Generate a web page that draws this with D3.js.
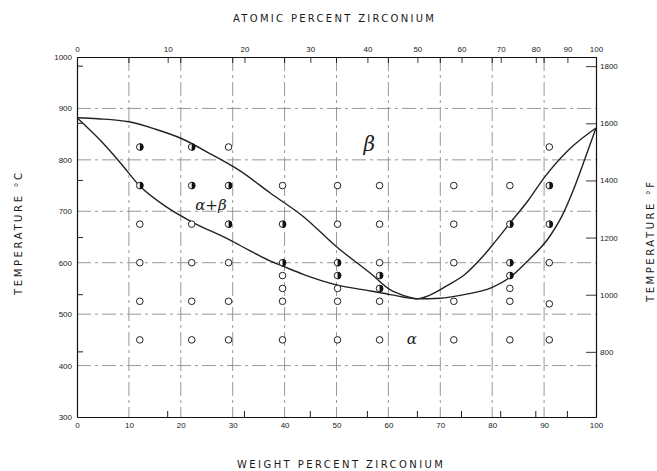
<!DOCTYPE html>
<html>
<head>
<meta charset="utf-8">
<script src="https://cdn.jsdelivr.net/npm/d3@7"></script>
<style>
  body { margin: 0; background: #fff; }
  svg { display: block; font-family: 'DejaVu Sans', sans-serif; }
  .axis text { font-size: 8px; fill: #1a1a1a; }
  .axis .domain { stroke: #111; stroke-width: 1.2; }
  .axis line { stroke: #222; stroke-width: 0.9; }
  .title { font-size: 10px; fill: #1a1a1a; }
  .grid { stroke: #8c8c8c; stroke-width: 0.9; stroke-dasharray: 14 4 3 4; fill: none; }
  .boundary { fill: none; stroke: #222; stroke-width: 1.4; }
  .phase { font-family: 'DejaVu Serif', serif; font-style: italic; fill: #222; }
</style>
</head>
<body>
<div id="chart"></div>
<script>
// Axis ticks
const weightTicks = [0, 10, 20, 30, 40, 50, 60, 70, 80, 90, 100];
const atomicTicks = [0, 10, 20, 30, 40, 50, 60, 70, 80, 90, 100];
const celsiusTicks = [300, 400, 500, 600, 700, 800, 900, 1000];
const fahrenheitTicks = [800, 1000, 1200, 1400, 1600, 1800];

// Phase boundaries, [weight % Zr, temperature C]
const betaTransus = [
  [0, 882], [4, 880], [10, 874], [15, 860], [20, 842], [26, 810], [31.5, 778],
  [37.3, 735], [43.7, 689], [50, 631], [56.6, 579], [60.4, 547], [63, 536],
  [65.5, 530], [68, 537], [71.4, 556], [74.6, 576], [78, 610], [80.5, 640],
  [83.5, 678], [87, 722], [90, 765], [95, 822], [100, 862],
];
const alphaTransus = [
  [0, 882], [4.4, 839], [8.3, 795], [12.2, 748], [17, 710], [22, 680], [29.5, 644],
  [33, 625], [37.3, 603], [39.5, 594], [43.7, 577], [50, 557], [56.6, 545],
  [60.4, 538], [65.5, 530], [70, 531], [74.6, 538], [80, 552], [83.5, 572],
  [87, 605], [91, 650], [93.5, 692], [95.5, 738], [97.8, 800], [100, 862],
];

// Alloys examined: single phase (open) and two phase (half filled)
const singlePhase = [
  [12.1, 675], [12.1, 600], [12.1, 525], [12.1, 450],
  [22.1, 675], [22.1, 600], [22.1, 525], [22.1, 450],
  [29.2, 825], [29.2, 600], [29.2, 525], [29.2, 450],
  [39.6, 750], [39.6, 575], [39.6, 550], [39.6, 525], [39.6, 450],
  [50.2, 750], [50.2, 675], [50.2, 550], [50.2, 525], [50.2, 450],
  [58.3, 750], [58.3, 675], [58.3, 600], [58.3, 525], [58.3, 450],
  [72.6, 750], [72.6, 675], [72.6, 600], [72.6, 525], [72.6, 450],
  [83.4, 750], [83.4, 550], [83.4, 525], [83.4, 450],
  [91.0, 825], [91.0, 600], [91.0, 520], [91.0, 450],
];
const twoPhase = [
  [12.1, 825], [12.1, 750],
  [22.1, 825], [22.1, 750],
  [29.2, 750], [29.2, 675],
  [39.6, 675], [39.6, 600],
  [50.2, 600], [50.2, 575],
  [58.3, 575], [58.3, 550],
  [83.4, 675], [83.4, 600], [83.4, 575],
  [91.0, 750], [91.0, 675],
];

const margin = { top: 57, left: 77 };
const width = 519;
const height = 360;

// Ti / Zr atomic weights, for the atomic percent scale
const massTi = 47.87;
const massZr = 91.22;
const atToWt = a => 100 * a * massZr / (a * massZr + (100 - a) * massTi);
const cToF = c => c * 9 / 5 + 32;
const fmt = d3.format('d');

const svg = d3.select('#chart').append('svg')
  .attr('width', 657)
  .attr('height', 471);

const g = svg.append('g')
  .attr('transform', `translate(${margin.left}, ${margin.top})`);

const x = d3.scaleLinear().domain([0, 100]).range([0, width]);
const y = d3.scaleLinear().domain([300, 1000]).range([height, 0]);
const xAt = d3.scaleLinear()
  .domain(atomicTicks)
  .range(atomicTicks.map(a => x(atToWt(a))));
const yF = d3.scaleLinear().domain([cToF(300), cToF(1000)]).range([height, 0]);

// Grid
g.append('g').selectAll('line')
  .data(celsiusTicks.slice(1, -1))
  .enter().append('line')
  .attr('class', 'grid')
  .attr('x1', 0).attr('x2', width)
  .attr('y1', d => y(d)).attr('y2', d => y(d));

g.append('g').selectAll('line')
  .data(weightTicks.slice(1, -1))
  .enter().append('line')
  .attr('class', 'grid')
  .attr('x1', d => x(d)).attr('x2', d => x(d))
  .attr('y1', 0).attr('y2', height);

// Axes
g.append('g')
  .attr('class', 'axis')
  .call(d3.axisLeft(y).tickValues(celsiusTicks).tickFormat(fmt)
    .tickSizeInner(0).tickSizeOuter(0).tickPadding(5));

g.append('g')
  .attr('class', 'axis')
  .attr('transform', `translate(0, ${height})`)
  .call(d3.axisBottom(x).tickValues(weightTicks).tickFormat(fmt)
    .tickSizeInner(0).tickSizeOuter(0).tickPadding(5));

g.append('g')
  .attr('class', 'axis')
  .call(d3.axisTop(xAt).tickValues(atomicTicks).tickFormat(fmt)
    .tickSizeInner(-6).tickSizeOuter(0).tickPadding(5));

g.append('g')
  .attr('class', 'axis')
  .attr('transform', `translate(${width}, 0)`)
  .call(d3.axisRight(yF).tickValues(fahrenheitTicks).tickFormat(fmt)
    .tickSizeInner(-10).tickSizeOuter(0).tickPadding(4));

// Extra inner ticks: weight on top, atomic on bottom, fahrenheit on left
g.append('g').selectAll('line')
  .data(weightTicks.slice(1, -1))
  .enter().append('line')
  .attr('stroke', '#222')
  .attr('x1', d => x(d)).attr('x2', d => x(d))
  .attr('y1', 0).attr('y2', 6);

g.append('g').selectAll('line')
  .data(atomicTicks.slice(1, -1))
  .enter().append('line')
  .attr('stroke', '#222')
  .attr('x1', d => xAt(d)).attr('x2', d => xAt(d))
  .attr('y1', height).attr('y2', height - 6);

g.append('g').selectAll('line')
  .data(fahrenheitTicks)
  .enter().append('line')
  .attr('stroke', '#222')
  .attr('x1', 0).attr('x2', 6)
  .attr('y1', d => yF(d)).attr('y2', d => yF(d));

// Phase boundaries
const line = d3.line()
  .curve(d3.curveMonotoneX)
  .x(d => x(d[0]))
  .y(d => y(d[1]));

g.append('path').datum(betaTransus).attr('class', 'boundary').attr('d', line);
g.append('path').datum(alphaTransus).attr('class', 'boundary').attr('d', line);

// Alloy points
const r = 3.3;
g.append('g').selectAll('circle')
  .data(singlePhase)
  .enter().append('circle')
  .attr('cx', d => x(d[0]))
  .attr('cy', d => y(d[1]))
  .attr('r', r)
  .attr('fill', '#fff')
  .attr('stroke', '#222')
  .attr('stroke-width', 1);

const half = g.append('g').selectAll('g')
  .data(twoPhase)
  .enter().append('g')
  .attr('transform', d => `translate(${x(d[0])}, ${y(d[1])})`);

half.append('circle')
  .attr('r', r)
  .attr('fill', '#fff')
  .attr('stroke', '#222')
  .attr('stroke-width', 1);

half.append('path')
  .attr('fill', '#111')
  .attr('d', d3.arc()({ innerRadius: 0, outerRadius: r + 0.4, startAngle: 0, endAngle: Math.PI }));

// Phase field labels
g.append('text').attr('class', 'phase')
  .attr('x', x(56.3)).attr('y', y(818))
  .attr('text-anchor', 'middle').attr('font-size', 20)
  .text('β');
g.append('text').attr('class', 'phase')
  .attr('x', x(25.8)).attr('y', y(703))
  .attr('text-anchor', 'middle').attr('font-size', 15)
  .text('α+β');
g.append('text').attr('class', 'phase')
  .attr('x', x(64.5)).attr('y', y(441))
  .attr('text-anchor', 'middle').attr('font-size', 15)
  .text('α');

// Titles
svg.append('text').attr('class', 'title')
  .attr('x', 233).attr('y', 22)
  .attr('textLength', 201).attr('lengthAdjust', 'spacing')
  .text('ATOMIC   PERCENT   ZIRCONIUM');

svg.append('text').attr('class', 'title')
  .attr('x', 237).attr('y', 468)
  .attr('textLength', 206).attr('lengthAdjust', 'spacing')
  .text('WEIGHT   PERCENT   ZIRCONIUM');

svg.append('text').attr('class', 'title')
  .attr('transform', 'translate(22, 295) rotate(-90)')
  .attr('textLength', 122).attr('lengthAdjust', 'spacing')
  .text('TEMPERATURE   °C');

svg.append('text').attr('class', 'title')
  .attr('transform', 'translate(654, 302) rotate(-90)')
  .attr('textLength', 120).attr('lengthAdjust', 'spacing')
  .text('TEMPERATURE   °F');
</script>
</body>
</html>
